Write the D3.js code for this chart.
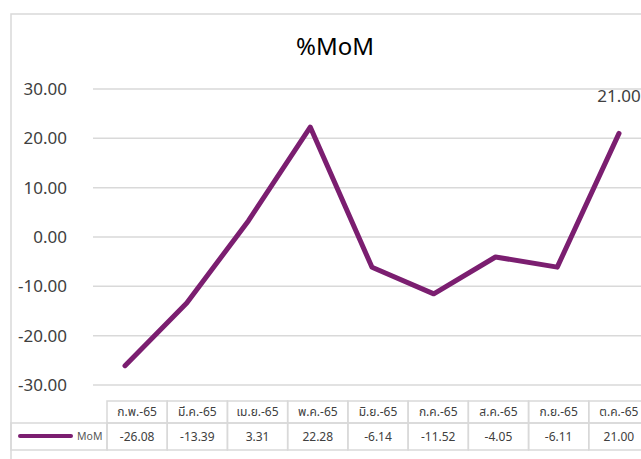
<!DOCTYPE html>
<html>
<head>
<meta charset="utf-8">
<script src="https://cdn.jsdelivr.net/npm/d3@7"></script>
<style>
  body { margin: 0; background: #fff; }
  svg { display: block; }
  text { font-family: "Noto Sans", "Noto Sans Thai", Tahoma, sans-serif; }
</style>
</head>
<body>
<svg id="drawing_region"></svg>
<script>
const months = ['ก.พ.-65', 'มี.ค.-65', 'เม.ย.-65', 'พ.ค.-65', 'มิ.ย.-65', 'ก.ค.-65', 'ส.ค.-65', 'ก.ย.-65', 'ต.ค.-65'];
const mom = [-26.08, -13.39, 3.31, 22.28, -6.14, -11.52, -4.05, -6.11, 21.00];
const yTicks = [-30, -20, -10, 0, 10, 20, 30];
const seriesName = 'MoM';

const W = 641, H = 459;
const purple = '#7b1e70';
const grid = '#d9d9d9';
const ink = '#404040';

// excel style: plain hyphen for negatives
const fmt = d => d3.format('.2f')(d).replace('\u2212', '-');

const svg = d3.select('#drawing_region')
    .attr('width', W)
    .attr('height', H);

// chart border (runs off the right side)
svg.append('rect')
    .attr('x', 11).attr('y', 14)
    .attr('width', W + 20).attr('height', H + 20)
    .attr('fill', 'none')
    .attr('stroke', grid)
    .attr('stroke-width', 1.5);

svg.append('text')
    .attr('x', 335).attr('y', 55)
    .attr('text-anchor', 'middle')
    .attr('font-size', 24)
    .attr('fill', '#000')
    .text('%MoM');

const y = d3.scaleLinear()
    .domain([-30, 30])
    .range([385, 89]);

const x = d3.scalePoint()
    .domain(months)
    .range([125, 619]);

// gridlines
svg.append('g')
    .selectAll('line')
    .data(yTicks)
    .join('line')
    .attr('x1', 93).attr('x2', W)
    .attr('y1', d => y(d)).attr('y2', d => y(d))
    .attr('stroke', grid)
    .attr('stroke-width', 1.5);

// y axis labels
const yAxis = d3.axisLeft(y)
    .tickValues(yTicks)
    .tickFormat(fmt)
    .tickSize(0)
    .tickPadding(0);

svg.append('g')
    .attr('transform', 'translate(67,0)')
    .call(yAxis)
    .call(g => g.select('.domain').remove())
    .call(g => g.selectAll('text')
        .attr('font-size', 17)
        .attr('fill', ink)
        .style('font-family', '"Noto Sans", sans-serif'));

// series line
const line = d3.line()
    .x((d, i) => x(months[i]))
    .y(d => y(d));

svg.append('path')
    .datum(mom)
    .attr('d', line)
    .attr('fill', 'none')
    .attr('stroke', purple)
    .attr('stroke-width', 5)
    .attr('stroke-linejoin', 'round')
    .attr('stroke-linecap', 'round');

// label on last point
const last = mom.length - 1;
svg.append('text')
    .attr('x', x(months[last]))
    .attr('y', y(mom[last]) - 31)
    .attr('text-anchor', 'middle')
    .attr('font-size', 17)
    .attr('fill', ink)
    .text(fmt(mom[last]));

// data table
const col = d3.scaleBand()
    .domain(months)
    .range([107, 649]);

const rowTop = 401, rowMid = 423, rowBot = 450;
const table = svg.append('g');

table.selectAll('rect.head')
    .data(months)
    .join('rect')
    .attr('class', 'head')
    .attr('x', d => col(d)).attr('y', rowTop)
    .attr('width', col.bandwidth()).attr('height', rowMid - rowTop)
    .attr('fill', 'none').attr('stroke', grid).attr('stroke-width', 1.5);

table.selectAll('rect.val')
    .data(months)
    .join('rect')
    .attr('class', 'val')
    .attr('x', d => col(d)).attr('y', rowMid)
    .attr('width', col.bandwidth()).attr('height', rowBot - rowMid)
    .attr('fill', 'none').attr('stroke', grid).attr('stroke-width', 1.5);

table.append('rect')
    .attr('x', 11).attr('y', rowMid)
    .attr('width', 107 - 11).attr('height', rowBot - rowMid)
    .attr('fill', 'none').attr('stroke', grid).attr('stroke-width', 1.5);

table.selectAll('text.head')
    .data(months)
    .join('text')
    .attr('class', 'head')
    .attr('x', d => col(d) + col.bandwidth() / 2)
    .attr('y', 416)
    .attr('text-anchor', 'middle')
    .attr('font-size', 12)
    .attr('fill', ink)
    .text(d => d);

table.selectAll('text.val')
    .data(mom)
    .join('text')
    .attr('class', 'val')
    .attr('x', (d, i) => col(months[i]) + col.bandwidth() / 2)
    .attr('y', 441)
    .attr('text-anchor', 'middle')
    .attr('font-size', 12)
    .attr('fill', ink)
    .text(d => fmt(d));

// legend key
table.append('line')
    .attr('x1', 20).attr('x2', 71)
    .attr('y1', 436).attr('y2', 436)
    .attr('stroke', purple)
    .attr('stroke-width', 4)
    .attr('stroke-linecap', 'round');

table.append('text')
    .attr('x', 77).attr('y', 440)
    .attr('text-anchor', 'start')
    .attr('font-size', 10.5)
    .attr('fill', '#595959')
    .text(seriesName);
</script>
</body>
</html>
